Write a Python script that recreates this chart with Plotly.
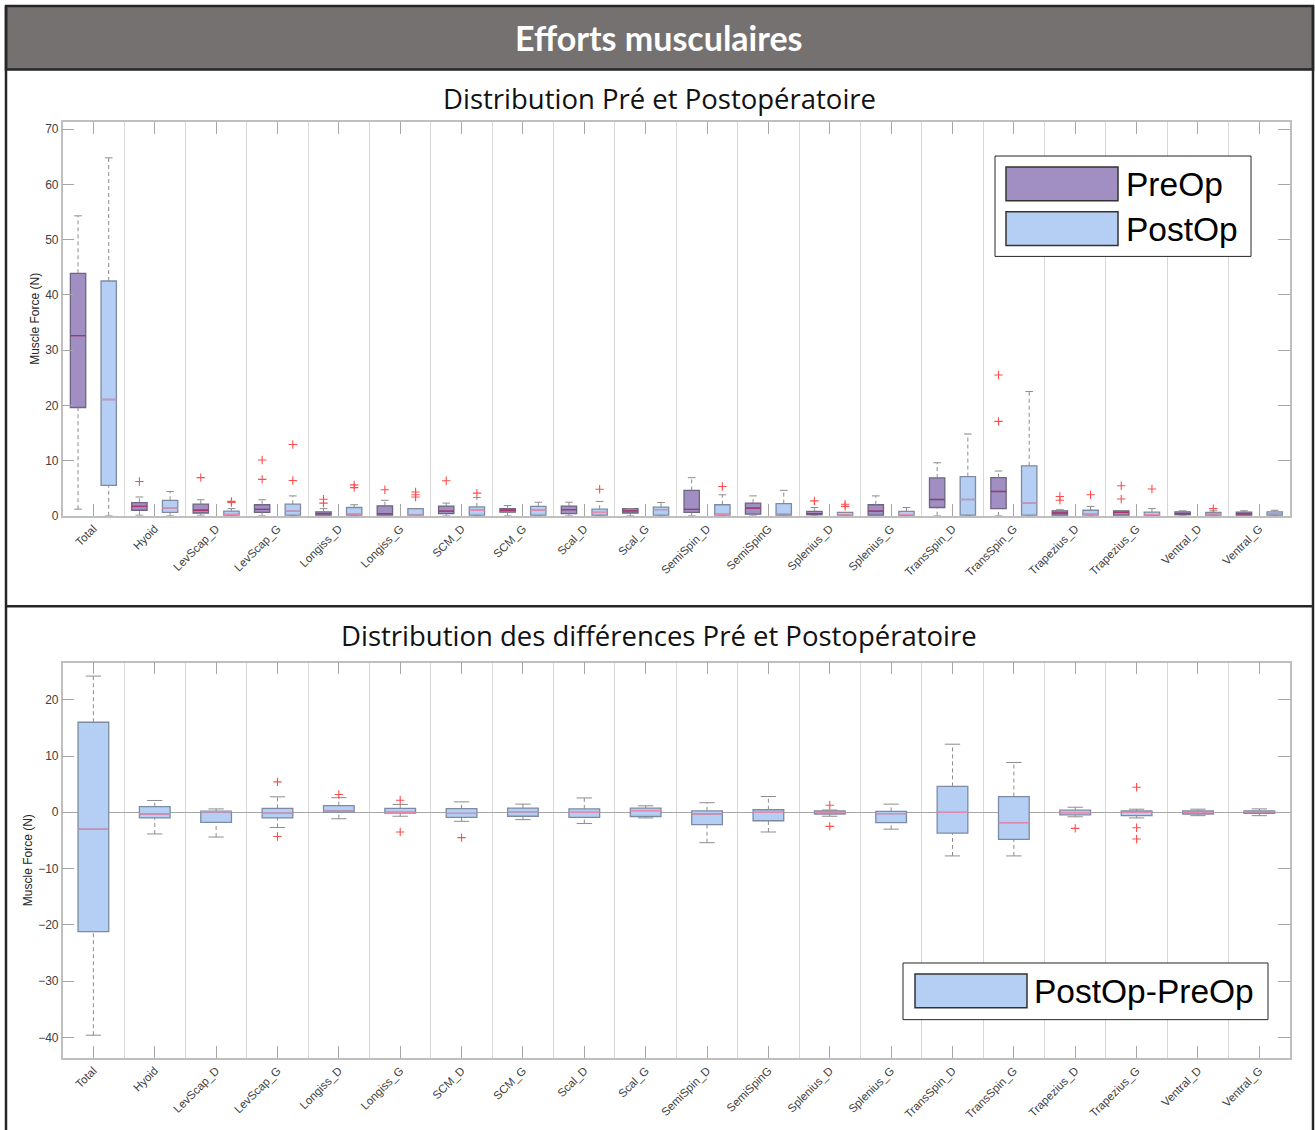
import plotly.graph_objects as go

W, H = 1315, 1130

categories = ["Total", "Hyoid", "LevScap_D", "LevScap_G", "Longiss_D", "Longiss_G",
              "SCM_D", "SCM_G", "Scal_D", "Scal_G", "SemiSpin_D", "SemiSpinG",
              "Splenius_D", "Splenius_G", "TransSpin_D", "TransSpin_G",
              "Trapezius_D", "Trapezius_G", "Ventral_D", "Ventral_G"]

# ---- PreOp box statistics (N) ----
pre_low = [1.2, 0.1, 0.1, 0.0, 0.0, 0.0, 0.0, 0.0, 0.0, 0.0, 0.0, 0.0, 0.0, 0.0, 0.0, 0.0, 0.0, 0.0, 0.0, 0.0]
pre_q1 = [19.6, 1.0, 0.5, 0.6, 0.1, 0.1, 0.4, 0.65, 0.4, 0.5, 0.6, 0.3, 0.15, 0.1, 1.5, 1.3, 0.1, 0.1, 0.15, 0.1]
pre_med = [32.6, 1.7, 1.0, 1.15, 0.4, 0.4, 0.85, 1.0, 1.1, 0.9, 1.15, 1.4, 0.4, 0.85, 2.95, 4.4, 0.5, 0.6, 0.4, 0.35]
pre_q3 = [43.9, 2.4, 2.1, 2.0, 0.7, 1.8, 1.75, 1.3, 1.75, 1.3, 4.6, 2.3, 0.8, 2.0, 6.85, 6.9, 0.9, 0.9, 0.7, 0.65]
pre_high = [54.3, 3.4, 2.9, 2.9, 1.3, 2.8, 2.3, 1.85, 2.45, 1.3, 6.9, 3.6, 1.5, 3.6, 9.6, 8.1, 1.1, 0.9, 0.9, 0.9]
pre_out = [[], [6.2], [6.9], [10.1, 6.6], [3.0, 2.3], [4.7], [6.35], [], [], [], [], [], [2.7], [],
           [], [25.5, 17.1], [3.5, 2.8], [5.45, 3.05], [], []]

# ---- PostOp box statistics (N) ----
post_low = [0.0] * 20
post_q1 = [5.5, 0.6, 0.05, 0.1, 0.1, 0.0, 0.1, 0.1, 0.1, 0.1, 0.1, 0.1, 0.0, 0.0, 0.1, 0.1, 0.0, 0.0, 0.05, 0.1]
post_med = [21.05, 1.4, 0.2, 0.85, 0.3, 0.1, 1.0, 1.0, 0.6, 1.1, 0.2, 0.4, 0.15, 0.2, 2.95, 2.3, 0.3, 0.2, 0.3, 0.4]
post_q3 = [42.5, 2.8, 0.85, 2.1, 1.5, 1.3, 1.6, 1.7, 1.2, 1.55, 2.0, 2.2, 0.6, 0.8, 7.1, 9.05, 1.0, 0.65, 0.6, 0.7]
post_high = [64.8, 4.4, 1.3, 3.6, 2.0, 1.3, 3.3, 2.45, 2.6, 2.4, 3.8, 4.6, 0.6, 1.5, 14.8, 22.5, 1.7, 1.3, 0.9, 1.0]
post_out = [[], [], [2.6, 2.4], [12.9, 6.4], [5.6, 5.1], [4.3, 3.8, 3.4], [4.1], [], [4.8], [], [5.3], [],
            [2.1, 1.7], [], [], [], [3.8], [4.85], [1.3], []]

# ---- PostOp - PreOp differences (N) ----
diff_low = [-39.6, -3.85, -4.4, -2.7, -1.15, -0.7, -1.6, -1.3, -2.0, -1.0, -5.4, -3.5, -0.7, -3.0,
            -7.75, -7.75, -0.8, -1.0, -0.6, -0.6]
diff_q1 = [-21.2, -1.0, -1.8, -1.0, 0.05, -0.15, -0.9, -0.7, -0.9, -0.75, -2.2, -1.5, -0.3, -1.85,
           -3.7, -4.8, -0.45, -0.6, -0.3, -0.2]
diff_med = [-3.0, -0.3, 0.1, -0.15, 0.2, -0.05, -0.2, 0.1, 0.0, 0.3, -0.3, 0.0, 0.0, -0.25,
            0.0, -1.85, -0.05, 0.0, 0.0, 0.05]
diff_q3 = [16.0, 1.0, 0.2, 0.7, 1.2, 0.7, 0.65, 0.75, 0.6, 0.75, 0.25, 0.45, 0.25, 0.15,
           4.6, 2.8, 0.4, 0.25, 0.25, 0.25]
diff_high = [24.2, 2.1, 0.6, 2.75, 2.6, 1.4, 1.85, 1.45, 2.55, 1.15, 1.7, 2.8, 0.4, 1.45,
             12.1, 8.85, 0.9, 0.55, 0.55, 0.6]
diff_out = [[], [], [], [5.4, -4.3], [3.15], [2.15, -3.5], [-4.5], [], [], [], [], [], [1.25, -2.5], [],
            [], [], [-2.85], [4.45, -2.75, -4.75], [], []]

top_yticks = [0, 10, 20, 30, 40, 50, 60, 70]
bot_yticks = [-40, -30, -20, -10, 0, 10, 20]

# ---- styles ----
PRE_FILL = "#A18FC4"
POST_FILL = "#B4CFF3"
PRE_EDGE = "#6C6482"
POST_EDGE = "#7C8BA3"
PRE_MED = "#B0306A"
POST_MED = "#E58BB0"
WHISK = "#8C8C8C"
OUT = "#FF4D4D"
AXC = "#BFBFBF"
FONT = "Liberation Sans"

positions = list(range(1, len(categories) + 1))


def px(x):
    return x / W


def py(y):
    return 1 - y / H


fig = go.Figure()


def add_series(xs, low, q1, med, q3, high, outs, width, fill, edge, medc, xa, ya, name):
    fig.add_trace(go.Box(x=xs, q1=q1, median=med, q3=q3, lowerfence=q1, upperfence=q3,
                         width=width, fillcolor=fill, line=dict(color=edge, width=1.3),
                         boxpoints=False, name=name, showlegend=False, xaxis=xa, yaxis=ya,
                         hoverinfo="skip"))
    cw = width / 4
    wx, wy, cx, cy, mx, my = [], [], [], [], [], []
    for x, lo, a, m, b, hi in zip(xs, low, q1, med, q3, high):
        wx += [x, x, None, x, x, None]
        wy += [b, hi, None, lo, a, None]
        cx += [x - cw, x + cw, None, x - cw, x + cw, None]
        cy += [hi, hi, None, lo, lo, None]
        mx += [x - width / 2, x + width / 2, None]
        my += [m, m, None]
    fig.add_trace(go.Scatter(x=wx, y=wy, mode="lines", line=dict(color=WHISK, width=1, dash="4px,3px"),
                             showlegend=False, xaxis=xa, yaxis=ya, hoverinfo="skip"))
    fig.add_trace(go.Scatter(x=cx, y=cy, mode="lines", line=dict(color=WHISK, width=1),
                             showlegend=False, xaxis=xa, yaxis=ya, hoverinfo="skip"))
    fig.add_trace(go.Scatter(x=mx, y=my, mode="lines", line=dict(color=medc, width=1.3),
                             showlegend=False, xaxis=xa, yaxis=ya, hoverinfo="skip"))
    ox, oy = [], []
    for x, vals in zip(xs, outs):
        for v in vals:
            ox.append(x)
            oy.append(v)
    fig.add_trace(go.Scatter(x=ox, y=oy, mode="markers",
                             marker=dict(symbol="cross-thin", size=6, line=dict(color=OUT, width=1.1)),
                             showlegend=False, xaxis=xa, yaxis=ya, hoverinfo="skip"))


add_series([p - 0.25 for p in positions], pre_low, pre_q1, pre_med, pre_q3, pre_high, pre_out,
           0.25, PRE_FILL, PRE_EDGE, PRE_MED, "x", "y", "PreOp")
add_series([p + 0.25 for p in positions], post_low, post_q1, post_med, post_q3, post_high, post_out,
           0.25, POST_FILL, POST_EDGE, POST_MED, "x", "y", "PostOp")
add_series(positions, diff_low, diff_q1, diff_med, diff_q3, diff_high, diff_out,
           0.5, POST_FILL, POST_EDGE, POST_MED, "x2", "y2", "PostOp-PreOp")


def xaxis_cfg(anchor):
    return dict(domain=[px(62.7), px(1290)], anchor=anchor, range=[0.5, 20.5],
                tickmode="array", tickvals=positions, ticktext=categories, tickangle=-45,
                ticks="inside", ticklen=12, tickcolor="#A6A6A6", tickwidth=1,
                showline=True, linecolor=AXC, linewidth=1.5, mirror="ticks",
                showgrid=False, zeroline=False,
                tickfont=dict(family=FONT, size=11.5, color="#404040"),
                minor=dict(tickmode="array", tickvals=[p + 0.5 for p in positions[:-1]],
                           showgrid=True, gridcolor="#D6D6D6", gridwidth=1, ticks=""))


def yaxis_cfg(anchor, dom, rng, tv, zl):
    return dict(domain=dom, anchor=anchor, range=rng, tickmode="array", tickvals=tv,
                ticks="inside", ticklen=12, tickcolor="#A6A6A6", tickwidth=1,
                showline=True, linecolor=AXC, linewidth=1.5, mirror="ticks",
                showgrid=False, zeroline=zl, zerolinecolor="#A6A6A6", zerolinewidth=1,
                tickfont=dict(family=FONT, size=12, color="#404040"),
                title=dict(text="Muscle Force (N)", font=dict(family=FONT, size=12, color="#262626"),
                           standoff=3))


shapes = []
# title bar and frame
shapes.append(dict(type="rect", xref="paper", yref="paper", x0=px(6), x1=px(1313), y0=py(70), y1=py(6),
                   fillcolor="#767171", line=dict(color="#262626", width=2.5), layer="above"))
shapes.append(dict(type="line", xref="paper", yref="paper", x0=px(6), x1=px(6), y0=py(6), y1=py(1140),
                   line=dict(color="#262626", width=2.5)))
shapes.append(dict(type="line", xref="paper", yref="paper", x0=px(1313), x1=px(1313), y0=py(6), y1=py(1140),
                   line=dict(color="#262626", width=2.5)))
shapes.append(dict(type="line", xref="paper", yref="paper", x0=px(6), x1=px(1313), y0=py(610), y1=py(610),
                   line=dict(color="#262626", width=2.5)))

# legend (top)
shapes.append(dict(type="rect", xref="paper", yref="paper", x0=px(995), x1=px(1251), y0=py(258), y1=py(157),
                   fillcolor="white", line=dict(color="#262626", width=1), layer="above"))
shapes.append(dict(type="rect", xref="paper", yref="paper", x0=px(1006), x1=px(1118), y0=py(202), y1=py(168),
                   fillcolor=PRE_FILL, line=dict(color="#333333", width=1.5), layer="above"))
shapes.append(dict(type="rect", xref="paper", yref="paper", x0=px(1006), x1=px(1118), y0=py(247), y1=py(213),
                   fillcolor=POST_FILL, line=dict(color="#333333", width=1.5), layer="above"))
# legend (bottom)
shapes.append(dict(type="rect", xref="paper", yref="paper", x0=px(903), x1=px(1268), y0=py(1026), y1=py(969),
                   fillcolor="white", line=dict(color="#262626", width=1), layer="above"))
shapes.append(dict(type="rect", xref="paper", yref="paper", x0=px(915), x1=px(1027), y0=py(1014), y1=py(980),
                   fillcolor=POST_FILL, line=dict(color="#333333", width=1.5), layer="above"))

annotations = [
    dict(text="<b>Efforts musculaires</b>", xref="paper", yref="paper", x=px(659), y=py(38),
         xanchor="center", yanchor="middle", showarrow=False,
         font=dict(family="Lato", size=34, color="white")),
    dict(text="Distribution Pré et Postopératoire", xref="paper", yref="paper", x=px(659), y=py(99),
         xanchor="center", yanchor="middle", showarrow=False,
         font=dict(family="Open Sans", size=27.5, color="#111111")),
    dict(text="Distribution des différences Pré et Postopératoire", xref="paper", yref="paper",
         x=px(659), y=py(639), xanchor="center", yanchor="middle", showarrow=False,
         font=dict(family="Open Sans", size=27.5, color="#111111")),
    dict(text="PreOp", xref="paper", yref="paper", x=px(1124), y=py(186), xanchor="left", yanchor="middle",
         showarrow=False, font=dict(family=FONT, size=33.5, color="black")),
    dict(text="PostOp", xref="paper", yref="paper", x=px(1124), y=py(231), xanchor="left", yanchor="middle",
         showarrow=False, font=dict(family=FONT, size=33.5, color="black")),
    dict(text="PostOp-PreOp", xref="paper", yref="paper", x=px(1032), y=py(998), xanchor="left",
         yanchor="middle", showarrow=False, font=dict(family=FONT, size=33.5, color="black")),
]

fig.update_layout(
    width=W, height=H, margin=dict(l=0, r=0, t=0, b=0),
    paper_bgcolor="white", plot_bgcolor="white", showlegend=False,
    boxmode="overlay",
    xaxis=xaxis_cfg("y"),
    yaxis=yaxis_cfg("x", [py(519), py(122.7)], [0, 71.3], top_yticks, False),
    xaxis2=xaxis_cfg("y2"),
    yaxis2=yaxis_cfg("x2", [py(1064.3), py(666.7)], [-43.6, 26.6], bot_yticks, True),
    shapes=shapes, annotations=annotations,
)

fig.write_html("out.html", config={"displayModeBar": False},
               post_script="document.body.style.margin='0';document.body.style.overflow='hidden';")
